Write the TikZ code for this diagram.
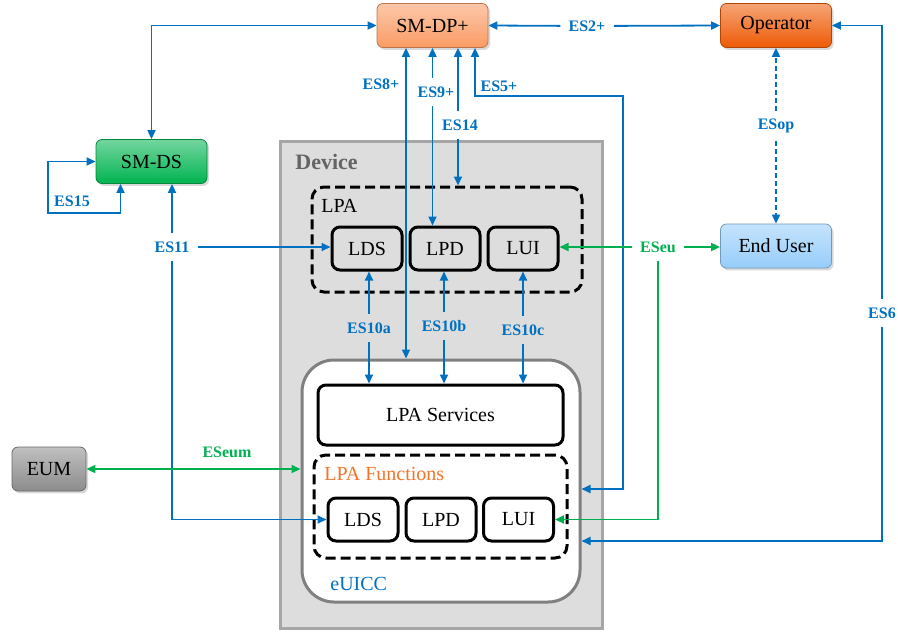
\documentclass[tikz,border=0pt]{standalone}
\usepackage{fontspec}
\setmainfont{LiberationSerif}[
    Extension=.ttf,
    UprightFont=*-Regular,
    BoldFont=*-Bold,
    ItalicFont=*-Italic,
    BoldItalicFont=*-BoldItalic]
\usepackage{tikz}
\usetikzlibrary{arrows.meta, shadows, calc}

\definecolor{esblue}{RGB}{0,112,192}
\definecolor{esgreen}{RGB}{0,176,80}
\definecolor{dporange}{RGB}{250,155,100}
\definecolor{oporange}{RGB}{238,90,5}
\definecolor{dsgreen}{RGB}{0,180,80}
\definecolor{userblue}{RGB}{150,205,250}
\definecolor{eumgray}{RGB}{140,140,140}
\definecolor{devgray}{RGB}{221,221,221}
\definecolor{devborder}{RGB}{166,166,166}
\definecolor{devtext}{RGB}{100,100,100}
\definecolor{euiccborder}{RGB}{128,128,128}
\definecolor{fnorange}{RGB}{245,115,40}

\begin{document}
\begin{tikzpicture}[
            x=0.5pt, y=-0.5pt,
            ext/.style={draw=#1!75!black, rounded corners=3pt, minimum width=55.5pt, minimum height=22pt,
                top color=#1!55!white, bottom color=#1,
                drop shadow={opacity=0.3, shadow xshift=1pt, shadow yshift=-1.2pt}},
            devbox/.style={draw=devborder, fill=devgray, line width=1.5pt},
            dashbox/.style={draw, line width=1.5pt, dash pattern=on 5pt off 2.5pt, rounded corners=6pt},
            fnbox/.style={draw, line width=1.5pt, rounded corners=4pt, minimum width=35pt, minimum height=21.5pt},
            ttl/.style={anchor=west, inner sep=0pt},
            es/.style={font=\fontsize{8}{9}\selectfont\bfseries, text=esblue, inner sep=4pt},
            onearrow/.style={-{Triangle[length=4.5pt, width=4pt]}, esblue, line width=0.9pt},
            biarrow/.style={{Triangle[length=4.5pt, width=4pt]}-{Triangle[length=4.5pt, width=4pt]}, esblue, line width=0.9pt},
            greenarrow/.style={-{Triangle[length=4.5pt, width=4pt]}, esgreen, line width=0.9pt},
            greenbi/.style={{Triangle[length=4.5pt, width=4pt]}-{Triangle[length=4.5pt, width=4pt]}, esgreen, line width=0.9pt},
        ]
            \useasboundingbox (0,0) rectangle (898,632);

            % Outside nodes
            \node[ext=dporange] (smdp) at (432.5,25.5) {SM-DP+};
            \node[ext=oporange] (operator) at (776,25.5) {Operator};
            \node[ext=dsgreen] (smds) at (151.5,161.5) {SM-DS};
            \node[ext=userblue] (enduser) at (776,246) {End User};
            \node[ext=eumgray, minimum width=37pt] (eum) at (49,469) {EUM};

            % Device
            \node[devbox, minimum width=161pt, minimum height=243.5pt] (device) at (441,384.5) {};
            \node[ttl, font=\fontsize{11}{13}\selectfont\bfseries, text=devtext] (devlbl) at (295,162) {Device};

            % LPA
            \node[dashbox, minimum width=135pt, minimum height=52.5pt] (lpa) at (447,239.5) {};
            \node[ttl] (lpalbl) at (321,206) {LPA};
            \node[fnbox] (lds1) at (367,248.5) {LDS};
            \node[fnbox] (lpd1) at (445,248.5) {LPD};
            \node[fnbox] (lui1) at (523,248.5) {LUI};

            % eUICC
            \node[draw=euiccborder, fill=white, line width=1.5pt, rounded corners=16pt,
                  minimum width=139pt, minimum height=121pt] (euicc) at (441,481) {};
            \node[ttl, text=esblue] (euicclbl) at (330,584) {eUICC};
            \node[fnbox, minimum width=122.5pt, minimum height=30pt] (svc) at (440.5,415) {LPA Services};
            \node[dashbox, minimum width=126.5pt, minimum height=51.5pt] (lpaf) at (440.5,506.5) {};
            \node[ttl, text=fnorange] (lpaflbl) at (324,474) {LPA Functions};
            \node[fnbox] (lds2) at (363,519.5) {LDS};
            \node[fnbox] (lpd2) at (441,519.5) {LPD};
            \node[fnbox] (lui2) at (518.5,519.5) {LUI};

            % Labels
            \node[es] (l8) at (381,84) {ES8+};
            \node[es] (l9) at (436,92) {ES9+};
            \node[es] (l14) at (460,125) {ES14};
            \node[es] (l5) at (499,86) {ES5+};
            \node[es] (l2) at (587,26) {ES2+};
            \node[es] (lop) at (776,126) {ESop};
            \node[es] (l6) at (882,313) {ES6};
            \node[es] (l15) at (72,201) {ES15};
            \node[es] (l11) at (172,247) {ES11};
            \node[es] (l10a) at (369,328) {ES10a};
            \node[es] (l10b) at (444,326) {ES10b};
            \node[es] (l10c) at (523,330) {ES10c};
            \node[es, text=esgreen] (leu) at (658,247) {ESeu};
            \node[es, text=esgreen] (leum) at (227,452) {ESeum};

            \coordinate (c15) at (48,213);
            \coordinate (c8) at (406,0);
            \coordinate (c14) at (458,0);
            \coordinate (c5a) at (475,96);
            \coordinate (c5b) at (623,489);
            \coordinate (c6) at (882,541);

            % Arrows
            \draw[biarrow] (smds.north) |- (smdp.west);
            \draw[biarrow] (smds.west) -| (c15) -| ($(smds.south)+(-31,0)$);
            \draw[onearrow] (l11) -- (smds.south -| l11);
            \draw[onearrow] (l11) -- (lds1.west |- l11);
            \draw[onearrow] (l11) |- (lds2.west);
            \draw[biarrow] (smdp.south -| c8) -- (euicc.north -| c8);
            \draw[onearrow] (smdp.south |- l9.north) -- (smdp.south);
            \draw[onearrow] (smdp.south |- l9.south) -- (lpd1.north -| smdp.south);
            \draw[onearrow] (l14.north -| c14) -- (smdp.south -| c14);
            \draw[onearrow] (l14.south -| c14) -- (lpa.north -| c14);
            \draw[biarrow] (smdp.south -| c5a) -- (c5a) -| (c5b) -- (euicc.east |- c5b);
            \draw[onearrow] (l2) -- (smdp.east);
            \draw[onearrow] (l2) -- (operator.west);
            \draw[onearrow, dash pattern=on 2.5pt off 1.5pt] (lop) -- (operator.south);
            \draw[onearrow, dash pattern=on 2.5pt off 1.5pt] (lop) -- (enduser.north);
            \draw[onearrow] (l6) |- (operator.east);
            \draw[onearrow] (l6) -- (c6) -- (euicc.east |- c6);
            \draw[greenarrow] (leu) -- (lui1.east |- leu);
            \draw[greenarrow] (leu) -- (enduser.west |- leu);
            \draw[greenarrow] (leu) |- (lui2.east);
            \draw[greenbi] (eum.east) -- (euicc.west |- eum.east);
            \draw[onearrow] (l10a) -- (lds1.south -| l10a);
            \draw[onearrow] (l10a) -- (svc.north -| l10a);
            \draw[onearrow] (l10b) -- (lpd1.south -| l10b);
            \draw[onearrow] (l10b) -- (svc.north -| l10b);
            \draw[onearrow] (l10c) -- (lui1.south -| l10c);
            \draw[onearrow] (l10c) -- (svc.north -| l10c);

        \end{tikzpicture}
\end{document}
